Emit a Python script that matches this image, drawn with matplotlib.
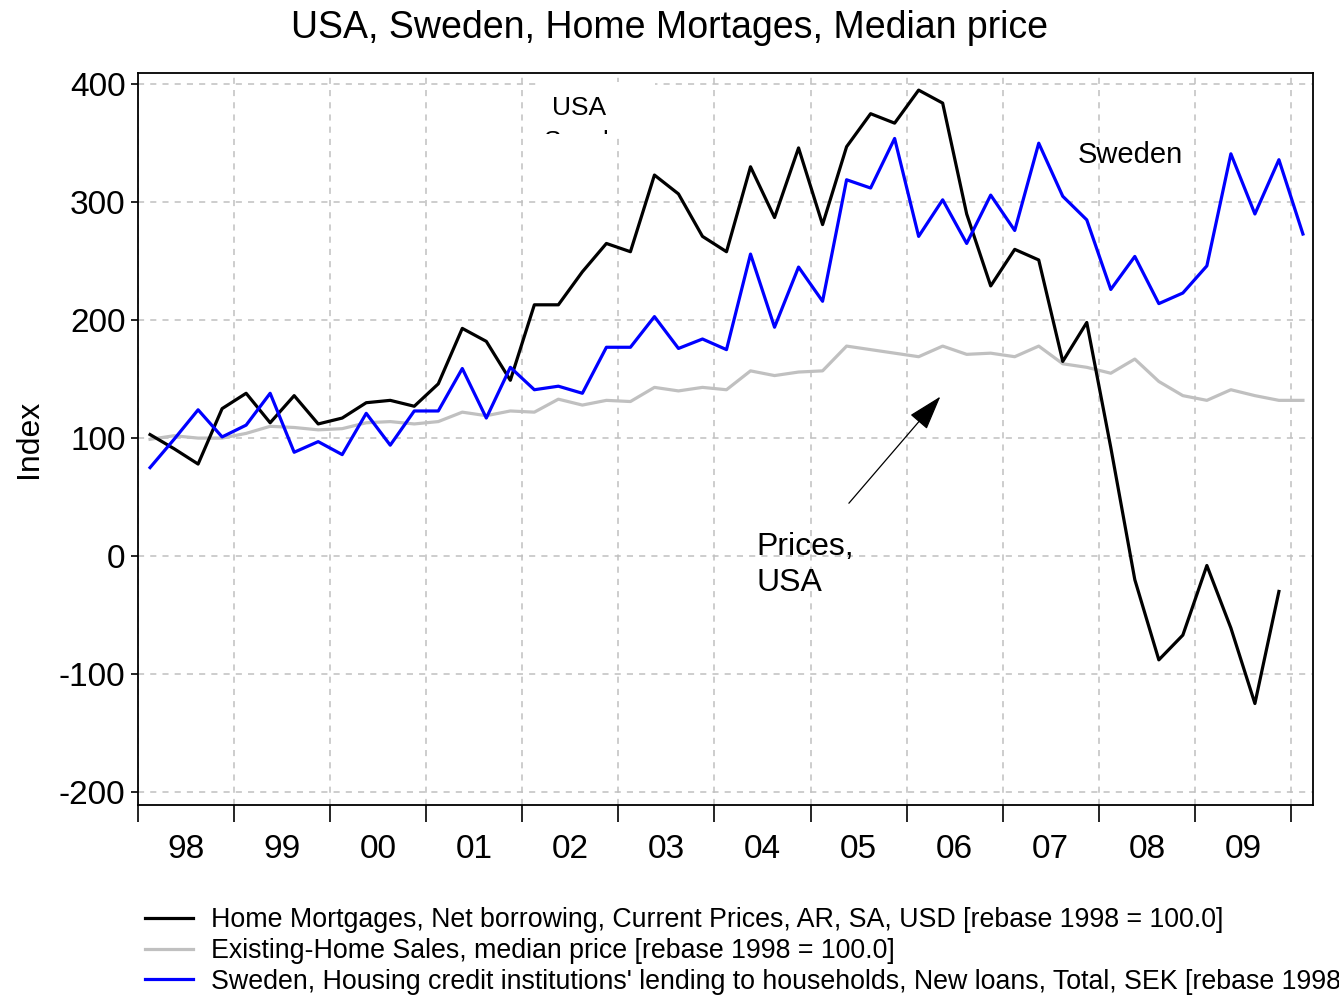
import numpy as np
import matplotlib
matplotlib.use("Agg")
import matplotlib.pyplot as plt
from matplotlib.patches import Rectangle
from matplotlib.transforms import Bbox, TransformedBbox

plt.rcParams['font.family'] = ['Liberation Sans', 'DejaVu Sans']

# quarterly series, first point 1998 Q1
start_year = 1998
mortgages = [103, 91, 78, 125, 138, 113, 136, 112, 117, 130, 132, 127,
             146, 193, 182, 149, 213, 213, 241, 265, 258, 323, 307, 271,
             258, 330, 287, 346, 281, 347, 375, 367, 395, 384, 290, 229,
             260, 251, 165, 198, 92, -20, -88, -67, -8, -61, -125, -30]
home_sales = [99, 102, 100, 100, 104, 110, 109, 107, 108, 113, 114, 112,
              114, 122, 119, 123, 122, 133, 128, 132, 131, 143, 140, 143,
              141, 157, 153, 156, 157, 178, 175, 172, 169, 178, 171, 172,
              169, 178, 163, 160, 155, 167, 148, 136, 132, 141, 136, 132, 132]
sweden = [75, 99, 124, 101, 111, 138, 88, 97, 86, 121, 94, 123,
          123, 159, 117, 160, 141, 144, 138, 177, 177, 203, 176, 184,
          175, 256, 194, 245, 216, 319, 312, 354, 271, 302, 265, 306,
          276, 350, 305, 285, 226, 254, 214, 223, 246, 341, 290, 336, 273]

years = list(range(1998, 2010))
year_labels = ['98', '99', '00', '01', '02', '03', '04', '05', '06', '07', '08', '09']
labels = ["Home Mortgages, Net borrowing, Current Prices, AR, SA, USD [rebase 1998 = 100.0]",
          "Existing-Home Sales, median price [rebase 1998 = 100.0]",
          "Sweden, Housing credit institutions' lending to households, New loans, Total, SEK [rebase 1998 = 100.0]"]


def qx(n):
    return start_year + (np.arange(n) + 0.5) / 4.0


fig = plt.figure(figsize=(13.39, 9.96), dpi=100)
ax = fig.add_axes([0.1031, 0.1918, 0.8775, 0.7349])

l1, = ax.plot(qx(len(mortgages)), mortgages, color='black', lw=2.3, zorder=4)
l2, = ax.plot(qx(len(home_sales)), home_sales, color='#c0c0c0', lw=2.3, zorder=3)
l3, = ax.plot(qx(len(sweden)), sweden, color='#0000ff', lw=2.3, zorder=4)

ax.set_xlim(1998, 2010.23)
ax.set_ylim(-211, 409.5)

ax.set_yticks([-200, -100, 0, 100, 200, 300, 400])
ax.set_yticklabels(['-200', '-100', '0', '100', '200', '300', '400'])
ax.set_xticks(list(range(1998, 2011)))
ax.set_xticklabels([])
ax.set_xticks([y + 0.5 for y in years], minor=True)
ax.set_xticklabels(year_labels, minor=True)
ax.tick_params(axis='x', which='major', length=12, width=1.2, direction='out')
ax.tick_params(axis='x', which='minor', length=0, pad=21, labelsize=24)
ax.tick_params(axis='y', length=5, width=1.2, labelsize=24, pad=4)

ax.grid(True, which='major', color='#c0c0c0', linestyle=(0, (4, 4)), lw=1.1)
ax.set_axisbelow(True)
for s in ax.spines.values():
    s.set_linewidth(1.3)

ax.set_ylabel('Index', fontsize=23, labelpad=11)
fig.suptitle('USA, Sweden, Home Mortages, Median price', fontsize=27, y=0.99, va='top')

# clipped label box in the upper middle
bx0, by0, bw, bh = 2002.18, 358, 1.2, 44
box = Rectangle((bx0, by0), bw, bh, facecolor='white', edgecolor='none', zorder=2.5)
ax.add_patch(box)
ax.text(2002.31, 380, 'USA', fontsize=19, va='center', zorder=5)
sw = ax.text(2002.22, 351, 'Sweden', fontsize=19, va='center', zorder=5)
sw.set_clip_box(TransformedBbox(Bbox([[bx0, by0], [bx0 + bw, by0 + bh]]), ax.transData))
sw.set_clip_on(True)

ax.text(2007.78, 340, 'Sweden', fontsize=21, va='center')
ax.text(2004.44, -7.5, 'Prices,\nUSA', fontsize=23, va='center', linespacing=1.25)
ax.annotate('', xy=(2006.37, 137), xytext=(2005.38, 43),
            arrowprops=dict(arrowstyle='-|>,head_length=1.1,head_width=0.35',
                            mutation_scale=20, color='black', lw=0.9))

fig.legend([l1, l2, l3], labels, loc='upper left', bbox_to_anchor=(0.1003, 0.1),
           frameon=False, fontsize=19.3, handlelength=1.8, handletextpad=0.65,
           labelspacing=0.18, borderaxespad=0)

fig.savefig('out.png', dpi=100)
